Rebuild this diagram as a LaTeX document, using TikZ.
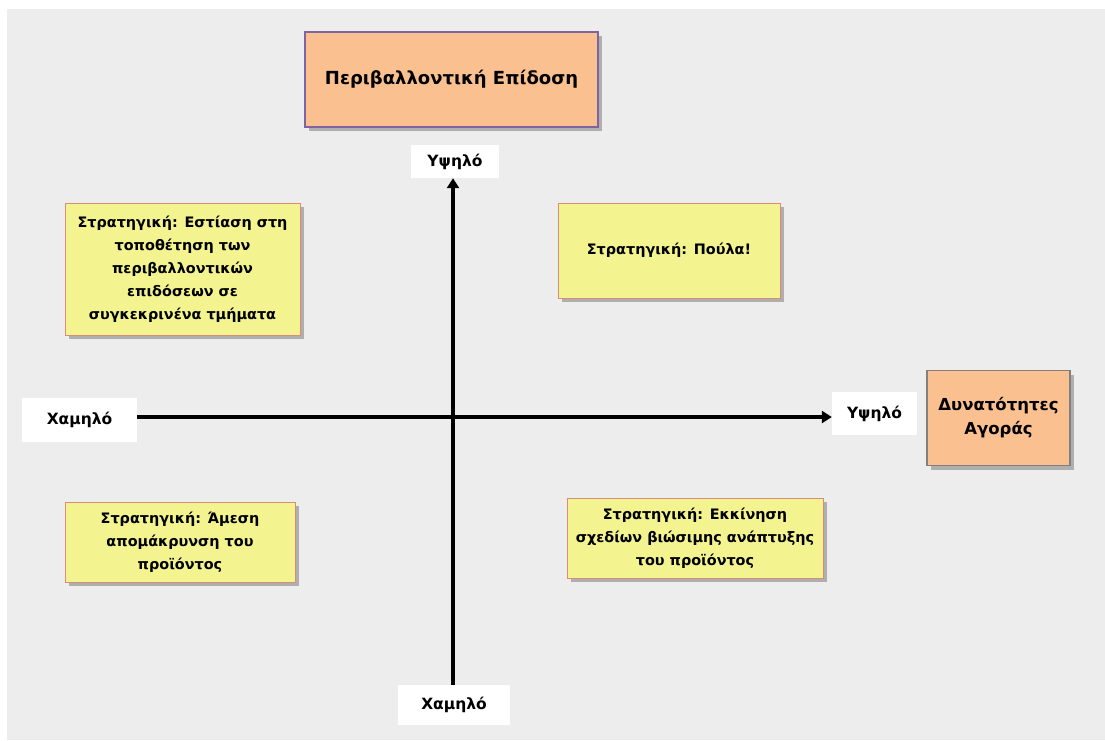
\documentclass[tikz,border=0pt]{standalone}
\usepackage{fontspec}
\setmainfont{DejaVu Sans}
\usetikzlibrary{shadows,arrows.meta}
\definecolor{bg}{HTML}{EDEDED}
\definecolor{peach}{HTML}{FAC090}
\definecolor{peachline}{HTML}{8064A2}
\definecolor{yel}{HTML}{F3F390}
\definecolor{yelline}{HTML}{D98C7A}
\tikzset{
  x=1pt, y=-1pt,
  box/.style={draw, line width=1.2pt, inner sep=0pt, align=center,
    font=\bfseries\fontsize{14.4}{23}\selectfont,
    drop shadow={shadow xshift=4pt, shadow yshift=-4pt, fill=black!55, opacity=0.5}},
  strategy/.style={box, fill=yel, draw=yelline, line width=1pt},
  headbox/.style={box, fill=peach, line width=1.8pt},
  tag/.style={fill=white, inner sep=0pt, font=\bfseries\fontsize{15.5}{18}\selectfont},
  axis/.style={line width=3.6pt, -{Triangle[length=10pt,width=12pt]}}
}
\begin{document}
\begin{tikzpicture}
\useasboundingbox (0,0) rectangle (1105,740);
\fill[bg] (7,9) rectangle (1105,740);

% headings of the two axes
\node[headbox, draw=peachline, minimum width=293pt, minimum height=95pt,
  font=\bfseries\fontsize{18}{22}\selectfont] (perf) at (451.5,79.5) {Περιβαλλοντική Επίδοση};
\node[headbox, draw=black!50, minimum width=143pt, minimum height=95pt,
  font=\bfseries\fontsize{16.5}{24}\selectfont] (market) at (998.5,418) {Δυνατότητες\\Αγοράς};

% end labels of the axes
\node[tag, minimum width=88pt, minimum height=33pt] (vhigh) at (455,161.5) {Υψηλό};
\node[tag, minimum width=115pt, minimum height=44pt] (hlow) at (79.5,420) {Χαμηλό};
\node[tag, minimum width=85pt, minimum height=43pt] (hhigh) at (874.5,413.5) {Υψηλό};
\node[tag, minimum width=112pt, minimum height=40pt] (vlow) at (454,705) {Χαμηλό};

% axes
\draw[axis] (vlow.north -| 453,0) -- (vhigh.south -| 453,0);
\draw[axis] (hlow.east |- 0,417) -- (hhigh.west |- 0,417);

% strategies in the four quadrants
\node[strategy, minimum width=235pt, minimum height=132pt] (q2) at (182.5,269)
  {Στρατηγική: Εστίαση στη\\τοποθέτηση των\\περιβαλλοντικών\\επιδόσεων σε\\συγκεκρινένα τμήματα};
\node[strategy, minimum width=222pt, minimum height=95pt] (q1) at (669,250.5)
  {Στρατηγική: Πούλα!};
\node[strategy, minimum width=230pt, minimum height=80pt] (q3) at (180,542)
  {Στρατηγική: Άμεση\\απομάκρυνση του\\προϊόντος};
\node[strategy, minimum width=256pt, minimum height=80pt] (q4) at (695,538)
  {Στρατηγική: Εκκίνηση\\σχεδίων βιώσιμης ανάπτυξης\\του προϊόντος};
\end{tikzpicture}
\end{document}
